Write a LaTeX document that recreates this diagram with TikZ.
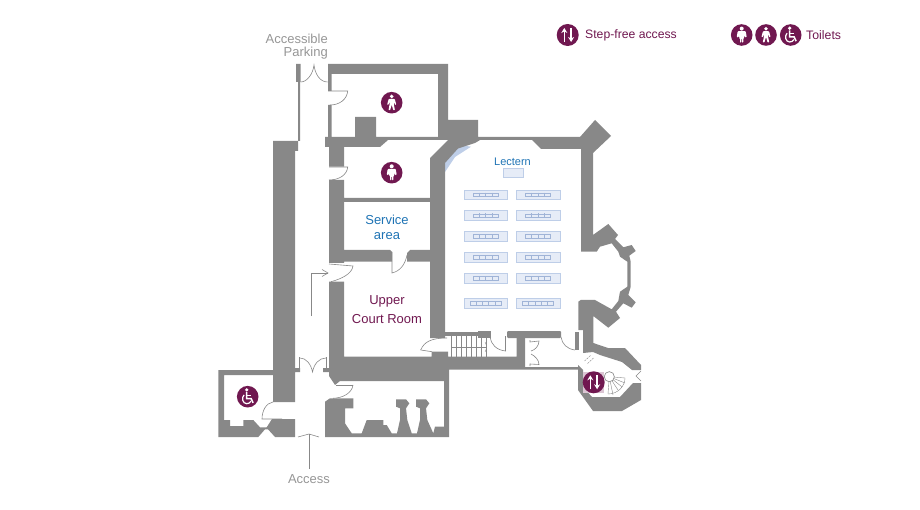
\documentclass[tikz,border=0pt]{standalone}
\usepackage{fontspec}
\setmainfont{Liberation Sans}
\usetikzlibrary{arrows.meta}
\definecolor{wall}{RGB}{136,136,136}
\definecolor{plum}{RGB}{112,24,80}
\definecolor{tablefill}{RGB}{230,236,247}
\definecolor{tableline}{RGB}{190,206,232}
\definecolor{seatline}{RGB}{160,180,215}
\definecolor{windowblue}{RGB}{190,206,232}
\definecolor{bluetext}{RGB}{30,115,180}
\definecolor{greytext}{RGB}{150,150,150}
\tikzset{
  x=1pt,y=-1pt,
  wallfill/.style={fill=wall,draw=none},
  doorline/.style={draw=wall,line width=0.6pt,fill=none},
  lbl/.style={font=\fontsize{13}{15}\selectfont,inner sep=0pt,align=center},
  iconwhite/.style={fill=white,draw=none},
  pics/manicon/.style={code={
    \fill[plum] (0,0) circle (10.8);
    \fill[iconwhite] (0,-6.3) circle (1.9);
    \fill[iconwhite,rounded corners=0.7pt] (-3,-3.8) -- (3,-3.8) -- (4.6,2) -- (3.4,2.4) -- (2.2,-0.8) -- (2,1) -- (3.2,7.5) -- (1.6,7.5) -- (0,2) -- (-1.6,7.5) -- (-3.2,7.5) -- (-2,1) -- (-2.2,-0.8) -- (-3.4,2.4) -- (-4.6,2) -- cycle;
  }},
  pics/ladyicon/.style={code={
    \fill[plum] (0,0) circle (10.8);
    \fill[iconwhite] (0,-6.4) circle (2);
    \fill[iconwhite,rounded corners=0.8pt] (-4,-3.8) -- (4,-3.8) -- (5,2.2) -- (3.2,2.4) -- (2.6,0) -- (2.4,3) -- (1.7,3) -- (1.7,7.6) -- (0.3,7.6) -- (0.3,3.4) -- (-0.3,3.4) -- (-0.3,7.6) -- (-1.7,7.6) -- (-1.7,3) -- (-2.4,3) -- (-2.6,0) -- (-3.2,2.4) -- (-5,2.2) -- cycle;
  }},
  pics/wheelicon/.style={code={
    \fill[plum] (0,0) circle (10.8);
    \fill[iconwhite] (-1,-6.8) circle (1.8);
    \draw[white,line width=1.5pt] (-1,-4.5) -- (-1,2) -- (3.5,2) -- (5.4,6.2);
    \draw[white,line width=1.2pt] (-1,-1.6) -- (3,-1.6);
    \draw[white,line width=1.2pt] (-3.6,-1.8) .. controls (-6.6,1) and (-5,7) .. (-1,7) .. controls (1,7) and (2.6,6) .. (3.2,4.4);
  }},
  pics/lifticon/.style={code={
    \fill[plum] (0,0) circle (11);
    \draw[white,line width=1.6pt,-{Stealth[length=5pt,width=6pt]}] (-3.4,7) -- (-3.4,-7);
    \draw[white,line width=1.6pt,-{Stealth[length=5pt,width=6pt]}] (3.4,-7) -- (3.4,7);
  }},
  pics/desk/.style args={#1/#2/#3}{code={
    \fill[tablefill] (0,0) rectangle (43.7,9.4);
    \draw[tableline,line width=0.5pt] (0,0) rectangle (43.7,9.4);
    \draw[seatline,line width=0.35pt] (#1,3) rectangle (#1+#2,6.4);
    \foreach \k in {1,...,#3} \draw[seatline,line width=0.35pt] ({#1+#2*\k/(#3+1)},2.6) -- ({#1+#2*\k/(#3+1)},6.8);
  }}
}
\begin{document}
\begin{tikzpicture}
\useasboundingbox (0,0) rectangle (920,510);

% blue window wedge
\fill[windowblue] (445,160) -- (445,172) -- (455,157) -- (471,146.7) -- (460,145) -- cycle;

% ---- upper rooms
\fill[wallfill] (296,64) -- (300.7,64) -- (300.7,82) -- (300,82) -- (300,141) -- (298,141) -- (298,82) -- (296,82) -- cycle;
\fill[wallfill] (328,64) -- (448,64) -- (448,120) -- (478,120) -- (478,137) -- (580,137) -- (595,120) -- (611,136) -- (593,153) -- (593,235) -- (608.3,224) -- (618,235) -- (615,239) -- (623.3,247.3) -- (631.7,245) -- (635.7,251) -- (629.3,255.7) -- (630.7,261.7) -- (630.7,286.7) -- (628.3,295) -- (635.7,302.3) -- (631.7,307.7) -- (623.3,303.3) -- (616,311.7) -- (620,318) -- (608.3,327.7) -- (593.3,316) -- (593.3,343) -- (608,348) -- (625,348) -- (641,365) -- (641,370) -- (632,370) -- (622,362) -- (600,355) -- (593,352) -- (583,353) -- (583,330) -- (578.3,330) -- (578.3,301.7) -- (580.7,300) -- (595,300) -- (611.7,309.3) -- (618.3,301) -- (620,291.7) -- (627.3,286.7) -- (627.3,261.7) -- (620,256.7) -- (618.3,251.7) -- (611.7,243.3) -- (600,246.7) -- (596.7,251.7) -- (581,251.7) -- (581,149) -- (541,149) -- (532,140) -- (480,140) -- (475,143) -- (458,148.5) -- (445,163) -- (445,338) -- (430,338) -- (430,158) -- (448,140) -- (388,140) -- (380,147) -- (344,147) -- (344,166.7) -- (329,166.7) -- (329,147) -- (325,147) -- (325,137) -- (328,137) -- (328,105) -- (331.7,105) -- (331.7,137) -- (355,137) -- (355,117) -- (376,117) -- (376,137) -- (438,137) -- (438,74) -- (331.7,74) -- (331.7,91) -- (328,91) -- cycle;
% room-2 and service walls
\fill[wallfill] (329,180) -- (344,180) -- (344,198) -- (430,198) -- (430,202) -- (344,202) -- (344,250) -- (390,250) -- (392,252) -- (392,261.7) -- (344,261.7) -- (344,263) -- (329,263) -- cycle;
\fill[wallfill] (407,261.7) -- (407,253) -- (410,250) -- (430,250) -- (430,261.7) -- cycle;
% court-room lower wall
\fill[wallfill] (329,281.7) -- (344,281.7) -- (344,356.7) -- (431.7,356.7) -- (431.7,351.7) -- (448,351.7) -- (448,356.7) -- (516.7,356.7) -- (516.7,334) -- (525,334) -- (525,367) -- (578,367) -- (578,369.5) -- (449,369.5) -- (449,437) -- (325,437) -- (325,401.7) -- (330,398.3) -- (353.3,398.3) -- (353.3,408.3) -- (345,408.3) -- (345,423.3) -- (351.7,433.3) -- (361.7,433.3) -- (366.7,420) -- (383.3,420) -- (383.3,425) -- (386.7,425) -- (391.7,433.3) -- (397,433.3) -- (400,420) -- (400,408.3) -- (396,406.7) -- (396,399.3) -- (406,399.3) -- (409.3,403.3) -- (406,408.3) -- (407.3,420) -- (411.7,433.3) -- (417,433.3) -- (420,420) -- (420,408.3) -- (416,406.7) -- (416,399.3) -- (426,399.3) -- (429.3,403.3) -- (426,408.3) -- (427.3,420) -- (433.3,433.3) -- (435,426.7) -- (444,426.7) -- (444,381) -- (340,381) -- (335,385) -- (329,376) -- (329,372) -- (323,372) -- (323,368) -- (329,368) -- cycle;
% corridor top wall pieces
\fill[wallfill] (445,332) rectangle (482,336);
\fill[wallfill] (478,331) rectangle (491,337.5);
\fill[wallfill,rounded corners=1pt] (507,331) rectangle (561,338);
\fill[wallfill] (574.5,332) rectangle (578.5,350);
% left long wall and accessible WC
\fill[wallfill] (273,141) -- (298,141) -- (298,151) -- (295,151) -- (295,368) -- (300,368) -- (300,372) -- (295,372) -- (295,402) -- (273,402) -- (273,375) -- (224,375) -- (224,420) -- (230,420) -- (230,426) -- (243.3,426) -- (243.3,420) -- (253.3,420) -- (260,427.3) -- (266.7,427.3) -- (272,419) -- (295,419) -- (295,437) -- (275,437) -- (268,429.3) -- (265,429.3) -- (258.3,437) -- (218.3,437) -- (218.3,370) -- (273,370) -- cycle;
% turret
\fill[wallfill] (578,365) -- (583,370) -- (583,387) -- (592,397) -- (620,397) -- (633,383) -- (641,383) -- (641,400) -- (622,411) -- (593,411) -- (578,390) -- cycle;
\fill[plum!25!white] (583,372) rectangle (604,393);

% ---- doors
\draw[doorline] (300.7,82) .. controls (307,82) and (313,74) .. (314,65) .. controls (315,74) and (320,82) .. (327.5,82);
\draw[doorline] (328,64) -- (328,82);
\draw[doorline] (328,91) -- (347.7,91) .. controls (347,99) and (340,105) .. (330,105);
\draw[doorline] (329,167) -- (347.7,167) .. controls (347,175) and (339,180) .. (329,180);
\draw[doorline] (392,252) -- (392,273) .. controls (400,271) and (405,265) .. (407,255);
\draw[doorline] (329,264) -- (353,266) .. controls (352,274) and (341,279) .. (331,281.7);
\draw[doorline] (311,316) -- (311,273) -- (328,273);
\draw[doorline] (322,269.5) -- (328,273) -- (322,276.5);
\draw[doorline] (420.7,350) .. controls (424,342) and (431,338) .. (447,338);
\draw[doorline] (420.7,350) -- (432,351.7);
\draw[doorline] (299.5,357) -- (299.5,370);
\draw[doorline] (326.5,357) -- (326.5,370);
\draw[doorline] (300,358) .. controls (306,358) and (311,364) .. (312.5,372) .. controls (314,364) and (319,358) .. (326,358);
\draw[doorline] (353,385) .. controls (352,393) and (343,398) .. (333,398.3);
\draw[doorline] (336,385) -- (353,385);
\draw[doorline] (273,402) .. controls (266,403) and (262,411) .. (262,419) -- (282,419);
\draw[doorline] (490,337) .. controls (491,344) and (496,350) .. (505.5,351) -- (505.5,336);
\draw[doorline] (561,337) .. controls (562,344) and (567,349) .. (575,350);
\draw[doorline] (530,340) -- (530,342) -- (539,341) .. controls (539,346) and (535,350) .. (531,351);
\draw[doorline] (530,366) -- (530,364) -- (539,364.5) .. controls (539,360) and (535,356) .. (531,354);
\draw[doorline] (298,437) -- (309,434) -- (319,437);
\draw[doorline] (309,434) -- (309,469);
% turret door and hatch
\draw[doorline,line width=0.4pt,dash pattern=on 2pt off 1pt] (584.5,361) -- (590.5,355.5);
\draw[doorline,line width=0.4pt,dash pattern=on 2pt off 1pt] (587.5,363.5) -- (593.5,358);
\draw[doorline] (641,371) -- (636,376) -- (641,381);

% ---- stairs
\draw[doorline,line width=0.4pt] (451,336) -- (451,357);
\foreach \i in {456.5,461.5,466.5,471.5,476.5,481.5,486} \draw[doorline,line width=0.4pt] (\i,336) -- (\i,357);
\draw[doorline,line width=0.4pt] (451,347) -- (486,347);
\draw[doorline,line width=0.4pt] (485,342) .. controls (487,345) and (487,349) .. (485,352);
% spiral stair
\draw[doorline,line width=0.5pt,fill=white] (609.3,376.7) circle (5);
\foreach \a/\b in {625/378,625/383,621.7/386.7,618/390,613/395,608/394} \draw[doorline,line width=0.4pt] (609.3,376.7) -- (\a,\b);
\draw[doorline,line width=0.4pt] (625,378) .. controls (625,386) and (618,394) .. (608,394);
\draw[doorline,line width=0.5pt,fill=white] (609.3,376.7) circle (5);

% ---- lectern and tables
\node[draw=tableline,fill=tablefill,line width=0.5pt,minimum width=20pt,minimum height=9pt,inner sep=0pt] (lecternbox) at (513,172.5) {};
\foreach \y in {190,210.7,231.5,252.5,273.5}{
  \pic at (464,\y) {desk={9/25/3}};
  \pic at (516.3,\y) {desk={9/25/3}};
}
\pic at (464,298.5) {desk={6/31/4}};
\pic at (516.3,298.5) {desk={6/31/4}};

% ---- icons
\pic at (391.7,102.7) {manicon};
\pic at (391.7,172.7) {ladyicon};
\pic at (247.7,396.7) {wheelicon};
\pic at (593.7,382.3) {lifticon};
\pic at (567.7,35) {lifticon};
\pic at (741.7,35) {ladyicon};
\pic at (766,35) {manicon};
\pic at (790.7,35) {wheelicon};

% ---- labels
\node[lbl,text=greytext,align=right,anchor=east,font=\fontsize{13}{13.5}\selectfont] (parking) at (328,46.5) {Accessible\\Parking};
\node[lbl,text=greytext] (access) at (309,479.5) {Access};
\node[lbl,text=bluetext,font=\fontsize{11}{13}\selectfont] (lectern) at (512.5,162) {Lectern};
\node[lbl,text=bluetext] (service) at (387,227) {Service\\area};
\node[lbl,text=plum,font=\fontsize{13}{18.5}\selectfont] (court) at (387,309.5) {Upper\\Court Room};
\node[lbl,text=plum,anchor=west,font=\fontsize{12.2}{15}\selectfont] (stepfree) at (585,35) {Step-free access};
\node[lbl,text=plum,anchor=west,font=\fontsize{12.3}{15}\selectfont] (toilets) at (806,35) {Toilets};
\end{tikzpicture}
\end{document}
